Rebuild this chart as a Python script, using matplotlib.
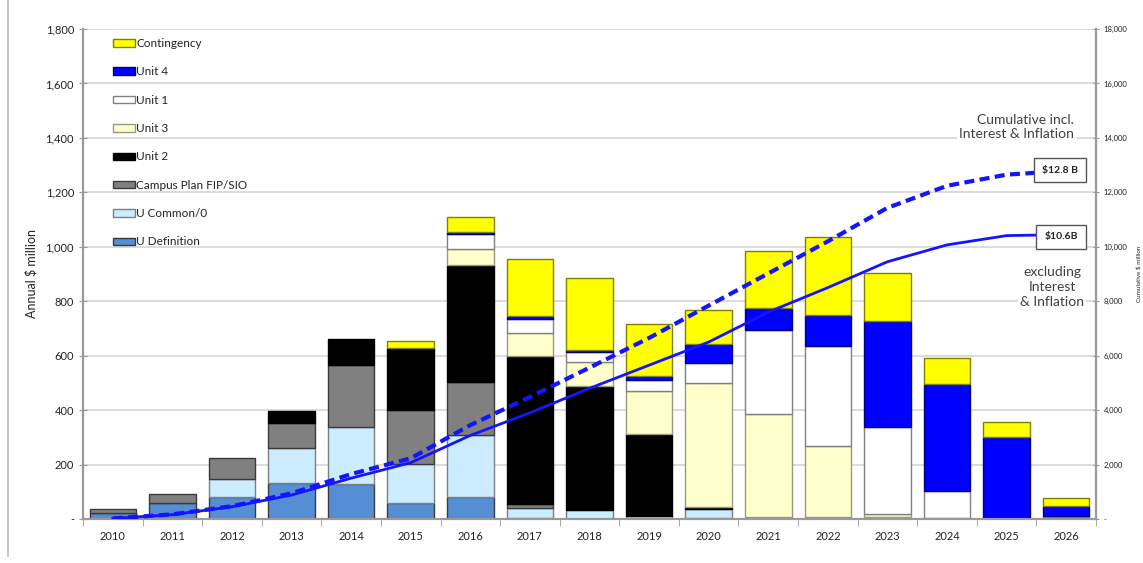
import matplotlib
matplotlib.use("Agg")
import matplotlib.pyplot as plt
import numpy as np
from matplotlib.ticker import FuncFormatter, MultipleLocator
from matplotlib.lines import Line2D

plt.rcParams['font.family'] = ['Lato', 'DejaVu Sans']

years = [str(y) for y in range(2010, 2027)]

# stacked series, bottom to top (Annual $ million)
u_definition = [22, 60, 82, 133, 129, 60, 80, 3, 0, 0, 5, 0, 0, 0, 0, 0, 0]
u_common = [0, 0, 64, 129, 210, 142, 229, 36, 33, 12, 30, 6, 6, 3, 0, 0, 0]
campus_plan = [13, 31, 79, 90, 225, 199, 196, 16, 0, 0, 0, 0, 0, 4, 0, 0, 0]
unit2 = [0, 0, 0, 45, 96, 226, 429, 544, 457, 300, 10, 0, 0, 0, 0, 0, 7]
unit3 = [0, 0, 0, 0, 0, 0, 59, 86, 88, 159, 454, 378, 263, 12, 5, 0, 0]
unit1 = [0, 0, 0, 0, 0, 0, 54, 51, 36, 41, 73, 309, 368, 318, 98, 5, 3]
unit4 = [0, 0, 0, 0, 0, 0, 7, 10, 5, 12, 71, 83, 113, 392, 392, 295, 37]
contingency = [0, 0, 0, 0, 0, 26, 55, 209, 266, 192, 125, 208, 285, 176, 96, 55, 29]

# cumulative lines (Cumulative $ million)
cum_excl = [20, 160, 450, 880, 1500, 2070, 3070, 3900, 4800, 5650, 6500, 7600, 8500, 9450, 10070, 10410, 10450]
cum_incl = [20, 170, 470, 940, 1650, 2230, 3450, 4480, 5560, 6650, 7840, 9020, 10200, 11430, 12240, 12650, 12790]

series = [
    ("U Definition", u_definition, "#558ED5", "#3a3a3a"),
    ("U Common/0", u_common, "#CCECFF", "#7f7f7f"),
    ("Campus Plan FIP/SIO", campus_plan, "#808080", "#3a3a3a"),
    ("Unit 2", unit2, "#000000", "#000000"),
    ("Unit 3", unit3, "#FFFFCC", "#9a9a80"),
    ("Unit 1", unit1, "#FFFFFF", "#808080"),
    ("Unit 4", unit4, "#0000FF", "#000080"),
    ("Contingency", contingency, "#FFFF00", "#808000"),
]

W, H = 1143, 563
fig = plt.figure(figsize=(W / 100, H / 100), dpi=100)
ax = fig.add_axes([83 / W, 1 - 519 / H, (1096 - 83) / W, (519 - 29) / H])

x = np.arange(len(years))
bottom = np.zeros(len(years))
handles = {}
for name, vals, fc, ec in series:
    v = np.array(vals, dtype=float)
    nz = v > 0
    b = ax.bar(x[nz], v[nz], 0.78, bottom=bottom[nz], color=fc, edgecolor=ec,
               linewidth=1.0, label=name, zorder=2)
    handles[name] = b
    bottom += v

ax.set_xlim(-0.5, len(years) - 0.5)
ax.set_ylim(0, 1800)
ax.yaxis.set_major_locator(MultipleLocator(200))
ax.yaxis.set_major_formatter(FuncFormatter(lambda v, p: "-" if v == 0 else f"{int(v):,}"))
ax.set_xticks(x)
ax.set_xticklabels(years, fontsize=8, color="#222222")
ax.set_xticks(np.arange(-0.5, len(years), 1), minor=True)
ax.tick_params(axis='x', which='major', length=0, pad=9)
ax.tick_params(axis='x', which='minor', length=5, color="#999999", direction='out')
ax.tick_params(axis='y', labelsize=8, labelcolor="#222222", length=6, direction='inout',
               color="#999999")
ax.set_ylabel("Annual $ million", fontsize=9, color="#222222", labelpad=6)
ax.grid(axis='y', color="#d6d6d6", linewidth=1.2)
ax.set_axisbelow(True)
ax.spines['top'].set_visible(False)
for s in ['left', 'right', 'bottom']:
    ax.spines[s].set_color("#999999")
    ax.spines[s].set_linewidth(1.5)

order = ["Contingency", "Unit 4", "Unit 1", "Unit 3", "Unit 2", "Campus Plan FIP/SIO",
         "U Common/0", "U Definition"]
leg = ax.legend([handles[n] for n in order], order, loc='upper left',
                bbox_to_anchor=(113 / W, 1 - 38 / H), bbox_transform=fig.transFigure,
                frameon=False, fontsize=8.5, labelspacing=1.47, handlelength=1.85,
                handleheight=0.6, handletextpad=0.12, borderaxespad=0, borderpad=0)
for t in leg.get_texts():
    t.set_color("#222222")

ax2 = ax.twinx()
ax2.set_ylim(0, 18000)
ax2.yaxis.set_major_locator(MultipleLocator(2000))
ax2.yaxis.set_major_formatter(FuncFormatter(lambda v, p: "-" if v == 0 else f"{int(v):,}"))
ax2.tick_params(axis='y', labelsize=5.5, labelcolor="#222222", length=4, color="#999999",
                direction='inout')
ax2.set_ylabel("Cumulative $ million", fontsize=4.5, color="#222222", labelpad=6)
ax2.spines['top'].set_visible(False)
for s in ['left', 'right', 'bottom']:
    ax2.spines[s].set_color("#999999")
    ax2.spines[s].set_linewidth(1.5)

ax2.plot(x, cum_excl, color="#1414FF", linewidth=2.0, zorder=3)
ax2.plot(x, cum_incl, color="#1414FF", linewidth=3.0, linestyle=(0, (2.4, 1.3)), zorder=3)


def fx(px):
    return px / W


def fy(py):
    return 1 - py / H


fig.text(fx(1074), fy(127), "Cumulative incl.\nInterest & Inflation", ha='right', va='center',
         fontsize=10, color="#404040", linespacing=1.25,
         bbox=dict(facecolor='white', edgecolor='none', pad=1.5), zorder=10)
fig.text(fx(1052), fy(287), "excluding\nInterest\n& Inflation", ha='center', va='center',
         fontsize=10, color="#404040", linespacing=1.25, multialignment='center',
         bbox=dict(facecolor='white', edgecolor='none', pad=1.5), zorder=10)
fig.text(fx(1060), fy(170), "$12.8 B", ha='center', va='center', fontsize=7.5,
         fontweight='bold', color="#222222",
         bbox=dict(facecolor='white', edgecolor='#555555', linewidth=1.0,
                   boxstyle='square,pad=0.75'), zorder=11)
fig.text(fx(1061), fy(237), "$10.6B", ha='center', va='center', fontsize=7.5,
         fontweight='bold', color="#222222",
         bbox=dict(facecolor='white', edgecolor='#555555', linewidth=1.0,
                   boxstyle='square,pad=0.75'), zorder=11)

fig.add_artist(Line2D([fx(8), fx(8)], [fy(0), fy(556)], color="#bbbbbb", linewidth=1.2,
                      transform=fig.transFigure))

fig.savefig("out.png", dpi=100)
